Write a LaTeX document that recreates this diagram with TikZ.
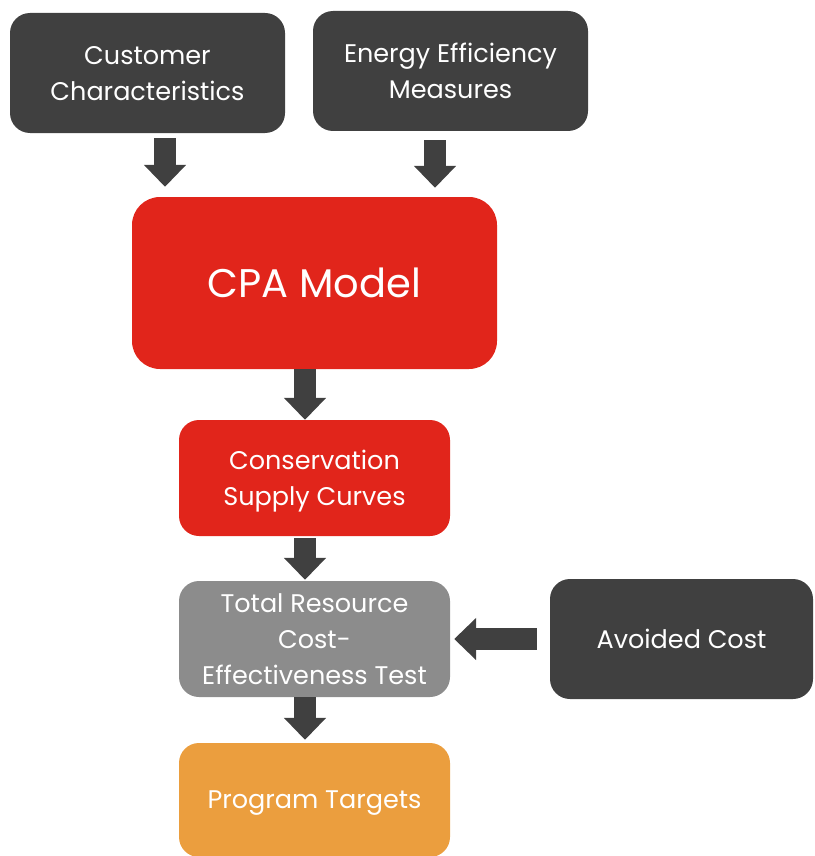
\documentclass[tikz,border=0pt]{standalone}
\usepackage{fontspec}
\setmainfont{Poppins}
\usepackage{tikz}
\usetikzlibrary{positioning,arrows.meta}

\definecolor{boxdark}{HTML}{404040}
\definecolor{boxred}{HTML}{E1251B}
\definecolor{boxgray}{HTML}{8C8C8C}
\definecolor{boxorange}{HTML}{EB9E3E}

\tikzset{
  block/.style={rectangle,rounded corners=20pt,text=white,align=center,
    inner sep=0pt,text depth=0pt,font=\fontsize{25.5}{36}\selectfont},
  bigblock/.style={block,rounded corners=28pt,font=\fontsize{40}{44}\selectfont},
  flow/.style={draw=boxdark,line width=22pt,
    -{Triangle[width=41pt,length=22pt]}}
}

\begin{document}
\begin{tikzpicture}[x=1pt,y=-1pt]
		% \draw[help lines] (0,0) grid (814,856);
		\useasboundingbox (0,0) rectangle (814,856);
		\node[block,fill=boxdark,minimum width=275pt,minimum height=120pt] (cust)
                at (147.5,73) {Customer\\Characteristics};
		\node[block,fill=boxdark,minimum width=275pt,minimum height=120pt] (eem)
                at (450.5,71) {Energy Efficiency\\Measures};
		\node[bigblock,fill=boxred,minimum width=365pt,minimum height=172pt] (cpa)
                at (314.5,283) {CPA Model};
		\node[block,fill=boxred,minimum width=271pt,minimum height=116pt] (csc)
                at (314.5,478) {Conservation\\Supply Curves};
		\node[block,fill=boxgray,minimum width=271pt,minimum height=116pt] (trc)
                at (314.5,639) {Total Resource\\Cost-\\Effectiveness Test};
		\node[block,fill=boxdark,minimum width=263pt,minimum height=120pt] (avoid)
                at (681.5,639) {Avoided Cost};
		\node[block,fill=boxorange,minimum width=271pt,minimum height=114pt] (prog)
                at (314.5,800) {Program Targets};
		\draw[flow,shorten <=5pt,shorten >=10pt] ([xshift=17.5pt]cust.south)
                to ([xshift=17.5pt]cust.south |- cpa.north);
		\draw[flow,shorten <=9pt,shorten >=9pt] ([xshift=-15.5pt]eem.south)
                to ([xshift=-15.5pt]eem.south |- cpa.north);
		\draw[flow,shorten >=0pt] ([xshift=-9.5pt]cpa.south)
                to ([xshift=-9.5pt]cpa.south |- csc.north);
		\draw[flow,shorten <=2pt,shorten >=1pt] ([xshift=-9.5pt]csc.south)
                to ([xshift=-9.5pt]csc.south |- trc.north);
		\draw[flow,shorten <=13pt,shorten >=4pt] (avoid.west) to (trc.east);
		\draw[flow,shorten >=3pt] ([xshift=-9.5pt]trc.south)
                to ([xshift=-9.5pt]trc.south |- prog.north);
\end{tikzpicture}
\end{document}
